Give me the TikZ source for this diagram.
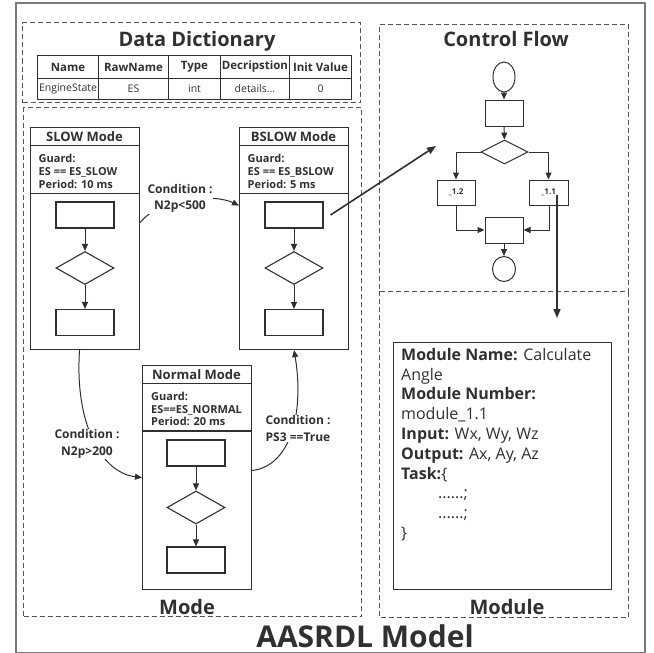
\documentclass[tikz,border=0pt]{standalone}
\usepackage{fontspec}
\setmainfont{Open Sans}
\usetikzlibrary{arrows.meta,shapes.geometric,calc}
\definecolor{ink}{HTML}{303030}
\definecolor{framec}{HTML}{7A7A7A}
\definecolor{dashc}{HTML}{555555}
\begin{document}
\begin{tikzpicture}[x=1pt,y=-1pt,
  every node/.style={text=ink},
  ln/.style={draw=ink, line width=1.1pt},
  sqbox/.style={ln, rectangle, inner sep=0pt, minimum width=58pt, minimum height=26pt},
  dbox/.style={ln, diamond, inner sep=0pt, minimum width=58pt, minimum height=33pt},
  modebox/.style={ln, rectangle, inner sep=0pt, minimum width=109pt, anchor=north west},
  modetitle/.style={font=\fontsize{13}{15}\selectfont\bfseries, inner sep=0pt},
  guardtxt/.style={font=\fontsize{11}{12.7}\selectfont\bfseries, align=left, anchor=north west, inner sep=0pt},
  arr/.style={draw=ink, line width=1pt, -{Triangle[length=7pt,width=6pt]}},
  bigarr/.style={draw=ink, line width=1.6pt, -{Triangle[length=9pt,width=7pt]}},
  dashbox/.style={draw=dashc, line width=1pt, dash pattern=on 5pt off 3pt, rectangle, inner sep=0pt, anchor=north west},
  sectitle/.style={font=\fontsize{20}{24}\selectfont\bfseries, anchor=base, inner sep=0pt},
  hcell/.style={draw=ink, line width=1pt, rectangle, inner sep=0pt, anchor=north west, minimum height=23pt, font=\fontsize{11.5}{13}\selectfont\bfseries},
  dcell/.style={draw=ink, line width=1pt, rectangle, inner sep=0pt, anchor=north west, minimum height=21pt, font=\fontsize{10.5}{12}\selectfont},
  condlbl/.style={fill=white, inner sep=1pt, align=center, font=\fontsize{12}{16.5}\selectfont\bfseries},
  cfbox/.style={draw=ink, line width=1pt, rectangle, inner sep=0pt, minimum width=38pt, minimum height=26pt},
  cfell/.style={draw=ink, line width=1pt, ellipse, inner sep=0pt},
  cfdia/.style={draw=ink, line width=1pt, diamond, inner sep=0pt, minimum width=47pt, minimum height=24pt},
  cfarr/.style={draw=ink, line width=1pt, -{Triangle[length=7pt,width=6pt]}}
]
\useasboundingbox (0,0) rectangle (654,653);

% outer frame
\node[draw=framec, line width=1.5pt, rectangle, inner sep=0pt, anchor=north west,
      minimum width=629pt, minimum height=650pt] (outer) at (15,2) {};

% section containers
\node[dashbox, minimum width=338pt, minimum height=80pt] (ddsec) at (22,22) {};
\node[dashbox, minimum width=338pt, minimum height=509pt] (modesec) at (23,107) {};
\node[dashbox, minimum width=249pt, minimum height=267pt] (cfsec) at (379,24) {};
\node[rectangle, inner sep=0pt, anchor=north west, minimum width=249pt, minimum height=326pt] (mdsec) at (379,291) {};
\draw[draw=dashc, line width=1pt, dash pattern=on 5pt off 3pt]
  (mdsec.north west) -- (mdsec.south west) -- (mdsec.south east) -- (mdsec.north east);

% section titles
\node[sectitle] (ddtitle) at (197,46.5) {Data Dictionary};
\node[sectitle] (cftitle) at (506,46.5) {Control Flow};
\node[sectitle] (modetitle) at (187,614) {Mode};
\node[sectitle] (mdtitle) at (507,614) {Module};
\node[font=\fontsize{30}{34}\selectfont\bfseries, anchor=base, inner sep=0pt] (maintitle) at (365,647) {AASRDL Model};

% data dictionary table
\node[hcell, minimum width=61pt] (h1) at (37,55) {Name};
\node[hcell, minimum width=70pt] (h2) at (98,55) {RawName};
\node[hcell, minimum width=52pt] (h3) at (168,55) {Type};
\node[hcell, minimum width=69pt] (h4) at (220,55) {Decripstion};
\node[hcell, minimum width=62pt] (h5) at (289,55) {Init Value};
\node[dcell, minimum width=61pt] (d1) at (37,78) {EngineState};
\node[dcell, minimum width=70pt] (d2) at (98,78) {ES};
\node[dcell, minimum width=52pt] (d3) at (168,78) {int};
\node[dcell, minimum width=69pt] (d4) at (220,78) {details...};
\node[dcell, minimum width=62pt] (d5) at (289,78) {\raisebox{-3pt}{0}};

% SLOW mode
\node[modebox, minimum height=222pt] (slow) at (30,127) {};
\node[modetitle] (slowt) at (84.5,136.5) {SLOW Mode};
\draw[ln] (slow.west |- 0,145.5) -- (slow.east |- 0,145.5);
\node[guardtxt] (slowg) at (38.5,154.3) {Guard:\\ES == ES\_SLOW\\Period: 10 ms};
\draw[ln] (slow.west |- 0,193.5) -- (slow.east |- 0,193.5);
\node[sqbox] (s1) at (85,215) {};
\node[dbox] (s2) at (85,268) {};
\node[sqbox] (s3) at (85,322.5) {};
\draw[arr] (s1) -- (s2);
\draw[arr] (s2) -- (s3);

% BSLOW mode
\node[modebox, minimum height=222pt] (bslow) at (239,127) {};
\node[modetitle] (bslowt) at (293.5,136.5) {BSLOW Mode};
\draw[ln] (bslow.west |- 0,145.5) -- (bslow.east |- 0,145.5);
\node[guardtxt] (bslowg) at (247.5,154.3) {Guard:\\ES == ES\_BSLOW\\Period: 5 ms};
\draw[ln] (bslow.west |- 0,193.5) -- (bslow.east |- 0,193.5);
\node[sqbox] (b1) at (294,215) {};
\node[dbox] (b2) at (294,268) {};
\node[sqbox] (b3) at (294,322.5) {};
\draw[arr] (b1) -- (b2);
\draw[arr] (b2) -- (b3);

% Normal mode
\node[modebox, minimum height=224pt] (normal) at (142,365) {};
\node[modetitle] (normalt) at (196.5,375) {Normal Mode};
\draw[ln] (normal.west |- 0,383.5) -- (normal.east |- 0,383.5);
\node[guardtxt] (normalg) at (151,392) {Guard:\\ES==ES\_NORMAL\\Period: 20 ms};
\draw[ln] (normal.west |- 0,431) -- (normal.east |- 0,431);
\node[sqbox] (n1) at (196,453) {};
\node[dbox] (n2) at (196,507.5) {};
\node[sqbox] (n3) at (196,560) {};
\draw[arr] (n1) -- (n2);
\draw[arr] (n2) -- (n3);

% mode transitions
\draw[arr] ([yshift=16pt]slow.east) .. controls +(20,-25) and +(-25,-12) .. ([yshift=33pt]bslow.west);
\node[condlbl] (ca) at (180,198.5) {Condition :\\N2p<500};
\draw[arr] ([xshift=-5.5pt]slow.south) .. controls +(-5,71) and +(-42,-5) .. (normal.west);
\node[condlbl] (cb) at (87,444) {Condition :\\N2p>200};
\draw[arr] ([yshift=7pt]normal.east) .. controls +(40,-5) and +(10,60) .. (bslow.south);
\node[condlbl] (cc) at (298,428.5) {Condition :\\PS3 ==True};

% control flow
\node[cfell, minimum width=22pt, minimum height=30pt] (cstart) at (504,77) {};
\node[cfbox] (c1) at (504,113) {};
\node[cfdia] (c2) at (504.5,152) {};
\node[cfbox, minimum height=25pt, font=\fontsize{8}{9}\selectfont\bfseries] (c12) at (456,192.5) {\_1.2};
\node[cfbox, minimum width=39pt, minimum height=25pt, font=\fontsize{8}{9}\selectfont\bfseries] (c11) at (548.5,192.5) {\_1.1};
\node[cfbox] (c3) at (504,230) {};
\node[cfell, minimum width=23pt, minimum height=25pt] (cend) at (504,269) {};
\draw[cfarr] (cstart) -- (c1);
\draw[cfarr] (c1) -- (c2);
\draw[cfarr] (c2.west) -| (c12.north);
\draw[cfarr] (c2.east) -| (c11.north);
\draw[cfarr] (c12.south) |- (c3.west);
\draw[cfarr] ([xshift=0.5pt]c11.south) |- (c3.east);
\draw[cfarr] (c3) -- (cend);

% links between sections
\coordinate (cfin) at (436,146);
\draw[bigarr] ([xshift=7pt]b1.east) -- (cfin);
\coordinate (mdin) at (557,318);
\draw[bigarr] ([xshift=8.5pt,yshift=-2.5pt]c11.center) -- (mdin);

% module description
\node[ln, rectangle, inner sep=0pt, anchor=north west, minimum width=218pt, minimum height=247pt] (modbox) at (393,342) {};
\node[anchor=north west, inner sep=0pt, align=left, font=\fontsize{16}{19.8}\selectfont] (modtext) at (401,348)
{\textbf{Module Name:} Calculate\\
Angle\\
\textbf{Module Number:}\\
module\_1.1\\
\textbf{Input:} Wx, Wy, Wz\\
\textbf{Output:} Ax, Ay, Az\\
\textbf{Task:}\{\\
\hspace*{37pt}......;\\
\hspace*{37pt}......;\\
\}};
\end{tikzpicture}
\end{document}
